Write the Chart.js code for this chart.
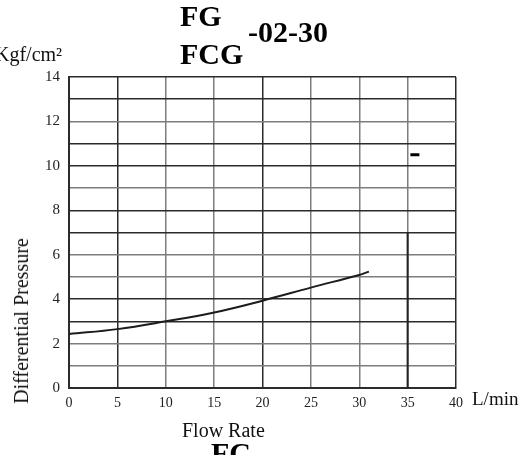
<!DOCTYPE html>
<html>
<head>
<meta charset="utf-8">
<script src="https://cdn.jsdelivr.net/npm/chart.js@4.4.0/dist/chart.umd.min.js"></script>
<style>
  body { margin: 0; background: #fff; }
  #wrap { position: relative; width: 523px; height: 455px; overflow: hidden; }
  #wrap canvas { position: absolute; left: 0; top: 0; }
  .t { position: absolute; font-family: "Liberation Serif", "Times New Roman", serif; line-height: 1; white-space: nowrap; color: #111; }
  .b { font-weight: bold; font-size: 30px; color: #000; }
</style>
</head>
<body>
<div id="wrap">
  <canvas id="c" width="523" height="455"></canvas>
  <div class="t b" style="left:180px;top:1px">FG</div>
  <div class="t b" style="left:180px;top:39px">FCG</div>
  <div class="t b" style="left:248px;top:17px">-02-30</div>
  <div class="t b" style="left:211px;top:438px">FC</div>
  <div class="t" style="left:-5px;top:44px;font-size:20px">Kgf/cm²</div>
  <div class="t" style="left:182px;top:420px;font-size:20px">Flow Rate</div>
  <div class="t" style="left:472px;top:389px;font-size:19px">L/min</div>
  <div class="t" style="left:21px;top:321px;font-size:20px;transform:translate(-50%,-50%) rotate(-90deg)">Differential Pressure</div>
</div>
<script>
// flow rate (L/min) vs differential pressure (kgf/cm2)
const flow = [0, 5, 10, 15, 20, 25, 30, 31];
const pressure = [2.43, 2.65, 3.0, 3.4, 3.93, 4.52, 5.09, 5.24];

// dark vertical segment on the 35 L/min line
const markX = [35, 35];
const markY = [0, 7];

// small dash near the right edge
const dashX = [35.75];
const dashY = [10.5];

const xTicks = [0, 5, 10, 15, 20, 25, 30, 35, 40];
const yTicks = [0, 2, 4, 6, 8, 10, 12, 14];

const DARK = '#2b2b2b';
const GRAY = '#7d7d7d';
const darkX = [0, 5, 20, 40];
const darkY = [0, 3, 4, 7, 8, 10, 11, 13, 14];

new Chart(document.getElementById('c'), {
  type: 'scatter',
  data: {
    datasets: [
      {
        data: flow.map((x, i) => ({ x, y: pressure[i] })),
        showLine: true,
        borderColor: '#1c1c1c',
        borderWidth: 2,
        tension: 0.4,
        pointRadius: 0,
      },
      {
        data: markX.map((x, i) => ({ x, y: markY[i] })),
        showLine: true,
        borderColor: '#222',
        borderWidth: 2,
        pointRadius: 0,
      },
      {
        data: dashX.map((x, i) => ({ x, y: dashY[i] })),
        pointStyle: 'line',
        pointRadius: 4.5,
        borderColor: '#000',
        borderWidth: 3,
      }
    ]
  },
  options: {
    responsive: false,
    animation: false,
    events: [],
    layout: { padding: { left: 0, top: 77, right: 67, bottom: 0 } },
    plugins: { legend: { display: false }, tooltip: { enabled: false } },
    scales: {
      x: {
        type: 'linear',
        min: 0,
        max: 40,
        afterFit: s => { s.height = 67; },
        afterBuildTicks: s => { s.ticks = xTicks.map(v => ({ value: v })); },
        ticks: {
          color: '#222',
          padding: 7,
          maxRotation: 0,
          font: { family: '"Liberation Serif", serif', size: 14 },
        },
        grid: {
          drawTicks: false,
          lineWidth: 1.5,
          color: ctx => darkX.includes(ctx.tick && ctx.tick.value) ? DARK : GRAY,
        },
        border: { color: DARK, width: 2 },
      },
      y: {
        min: 0,
        max: 14,
        afterFit: s => { s.width = 69; },
        ticks: {
          stepSize: 1,
          autoSkip: false,
          color: '#222',
          padding: 9,
          font: { family: '"Liberation Serif", serif', size: 15 },
          callback: v => yTicks.includes(v) ? v : '',
        },
        grid: {
          drawTicks: false,
          lineWidth: 1.5,
          color: ctx => darkY.includes(ctx.tick && ctx.tick.value) ? DARK : GRAY,
        },
        border: { color: DARK, width: 2 },
      }
    }
  }
});
</script>
</body>
</html>
